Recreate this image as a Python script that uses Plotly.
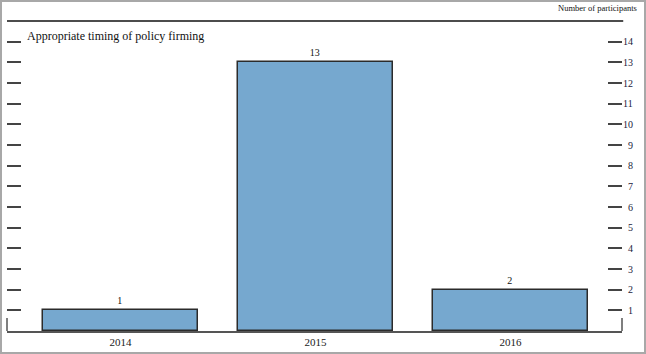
import plotly.graph_objects as go

years = ["2014", "2015", "2016"]
participants = [1, 13, 2]
y_ticks = list(range(1, 15))
title_text = "Appropriate timing of policy firming"
unit_text = "Number of participants"

W, H = 646, 354
ml, mr, mt, mb = 7, 24, 21, 23
pw, ph = W - ml - mr, H - mt - mb

FONT = "Liberation Serif"
bar_color = "#76a8cf"

fig = go.Figure()
fig.add_trace(go.Bar(
    x=years, y=participants, width=0.795,
    marker=dict(color=bar_color, line=dict(color="#2b2b2b", width=1.5)),
    text=[str(v) for v in participants], textposition="outside",
    textfont=dict(family=FONT, size=10, color="#111"),
    cliponaxis=False, showlegend=False,
))
# invisible trace to activate the left tick axis
fig.add_trace(go.Scatter(x=years, y=participants, yaxis="y2", mode="none",
                         showlegend=False, hoverinfo="skip"))

tick_text = [("\u2007" + str(v)) if v < 10 else str(v) for v in y_ticks]

fig.update_layout(
    width=W, height=H,
    margin=dict(l=ml, r=mr, t=mt, b=mb),
    paper_bgcolor="white", plot_bgcolor="white",
    bargap=0,
    xaxis=dict(
        type="category", range=[-0.582, 2.572],
        showgrid=False, zeroline=False,
        showline=True, linecolor="#555", linewidth=1.5,
        ticks="", tickfont=dict(family=FONT, size=11, color="#222"),
    ),
    yaxis=dict(
        range=[0, 15], side="right", showgrid=False, zeroline=False,
        tickvals=y_ticks, ticktext=tick_text,
        ticks="inside", ticklen=14, tickwidth=1.5, tickcolor="#444",
        tickfont=dict(family=FONT, size=10, color="#1a1a3a"),
        showline=False,
    ),
    yaxis2=dict(
        range=[0, 15], side="left", overlaying="y", showgrid=False,
        zeroline=False, tickvals=y_ticks, showticklabels=False,
        ticks="inside", ticklen=14, tickwidth=1.5, tickcolor="#444",
        showline=False,
    ),
    shapes=[
        # top rule
        dict(type="line", xref="paper", yref="paper", x0=0, x1=1.002, y0=1, y1=1,
             line=dict(color="#111", width=1.5)),
        # bottom-axis end caps
        dict(type="line", xref="paper", yref="paper", x0=0, x1=0, y0=0, y1=13 / ph,
             line=dict(color="#555", width=1.5)),
        dict(type="line", xref="paper", yref="paper", x0=1, x1=1, y0=0, y1=13 / ph,
             line=dict(color="#555", width=1.5)),
        # outer frame
        dict(type="rect", xref="paper", yref="paper",
             x0=(1 - ml) / pw, x1=(W - 1 - ml) / pw,
             y0=-(mb - 1) / ph, y1=1 + (mt - 1) / ph,
             line=dict(color="#a8a8a8", width=2)),
    ],
    annotations=[
        dict(text=title_text, xref="paper", yref="paper",
             x=(25 - ml) / pw, y=(H - mb - 36) / ph, xanchor="left", yanchor="middle",
             showarrow=False, font=dict(family=FONT, size=12, color="#111")),
        dict(text=unit_text, xref="paper", yref="paper",
             x=(639 - ml) / pw, y=1 + (mt - 8) / ph, xanchor="right", yanchor="middle",
             showarrow=False, font=dict(family=FONT, size=8.5, color="#111")),
    ],
)

fig.write_html("out.html")
